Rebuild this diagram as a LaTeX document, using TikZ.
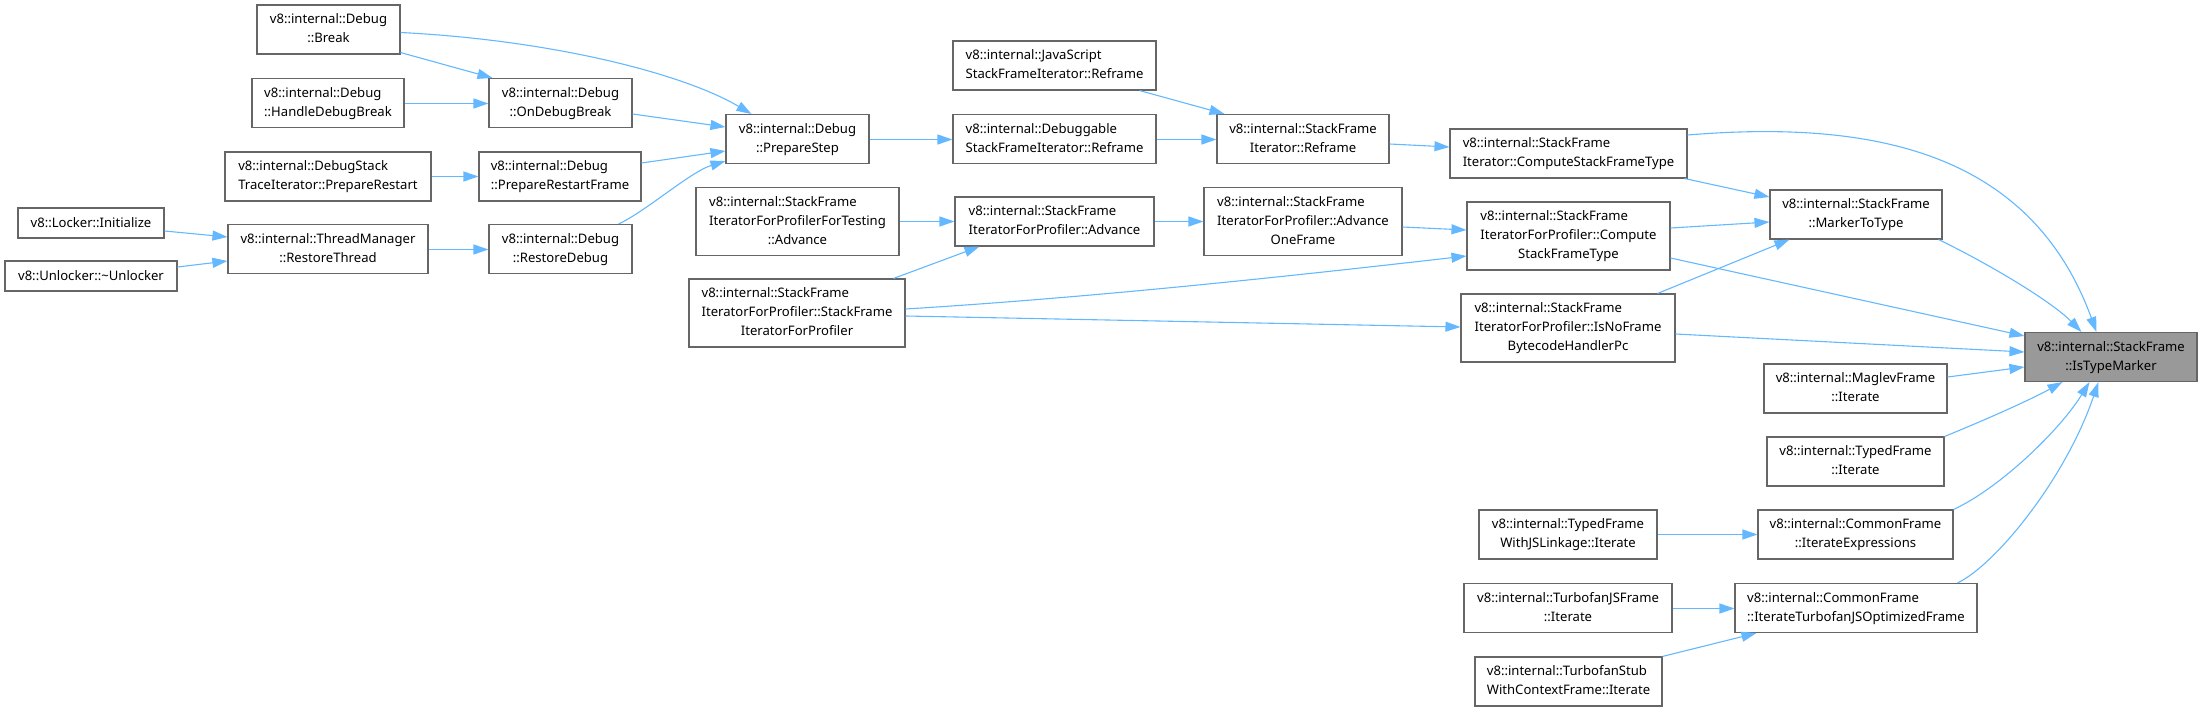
\documentclass[tikz,border=0pt]{standalone}
\usepackage{fontspec}
\setmainfont{Noto Sans}
\usetikzlibrary{arrows.meta,calc}
\definecolor{edgec}{HTML}{63B8FF}
\definecolor{nodeb}{HTML}{666666}
\definecolor{hlfill}{HTML}{999999}
\newcommand\lbl[2]{\begin{tabular}{@{}l@{}}#1\\\multicolumn{1}{@{}c@{}}{#2}\end{tabular}}
\begin{document}
\begin{tikzpicture}[x=1pt,y=-1pt,
  box/.style 2 args={draw=nodeb, line width=1.1pt, fill=white, inner sep=0pt,
    minimum width=#1pt, minimum height=#2pt, text=black,
    font=\fontsize{13.1}{19}\selectfont},
  hl/.style={fill=hlfill},
  edge/.style={draw=edgec, line width=1.1pt, -{Triangle[length=15pt,width=10pt]}}]
\useasboundingbox (0,0) rectangle (2202,711);
% column 1
\node[box={146}{30}] (lock) at (91,223) {v8::Locker::Initialize};
\node[box={172}{30}] (unlock) at (91,276) {v8::Unlocker::\textasciitilde Unlocker};
% column 2
\node[box={143}{49}] (brk) at (328.5,29.5) {\lbl{v8::internal::Debug}{::Break}};
\node[box={152}{49}] (hdb) at (328,103) {\lbl{v8::internal::Debug}{::HandleDebugBreak}};
\node[box={206}{49}] (dsti) at (328,176.5) {\lbl{v8::internal::DebugStack}{TraceIterator::PrepareRestart}};
\node[box={200}{49}] (rth) at (328,249) {\lbl{v8::internal::ThreadManager}{::RestoreThread}};
% column 3
\node[box={143}{49}] (odb) at (560.5,103) {\lbl{v8::internal::Debug}{::OnDebugBreak}};
\node[box={162}{49}] (prf) at (560,176.5) {\lbl{v8::internal::Debug}{::PrepareRestartFrame}};
\node[box={143}{49}] (rdb) at (560.5,249) {\lbl{v8::internal::Debug}{::RestoreDebug}};
% column 4
\node[box={143}{49}] (pstep) at (797.5,139) {\lbl{v8::internal::Debug}{::PrepareStep}};
\node[box={203}{68}] (fta) at (797.5,221.5) {\lbl{v8::internal::StackFrame\\IteratorForProfilerForTesting}{::Advance}};
\node[box={216}{68}] (pctor) at (797,313) {\lbl{v8::internal::StackFrame\\IteratorForProfiler::StackFrame}{IteratorForProfiler}};
% column 5
\node[box={203}{49}] (jsr) at (1054.5,65.5) {\lbl{v8::internal::JavaScript}{StackFrameIterator::Reframe}};
\node[box={203}{49}] (dbr) at (1054.5,139) {\lbl{v8::internal::Debuggable}{StackFrameIterator::Reframe}};
\node[box={199}{49}] (pad) at (1054.5,221.5) {\lbl{v8::internal::StackFrame}{IteratorForProfiler::Advance}};
% column 6
\node[box={172}{49}] (sfr) at (1303,139) {\lbl{v8::internal::StackFrame}{Iterator::Reframe}};
\node[box={198}{68}] (aof) at (1303,221.5) {\lbl{v8::internal::StackFrame\\IteratorForProfiler::Advance}{OneFrame}};
% column 7
\node[box={237}{49}] (cst) at (1568.5,153.5) {\lbl{v8::internal::StackFrame}{Iterator::ComputeStackFrameType}};
\node[box={203}{68}] (pcst) at (1568.5,236) {\lbl{v8::internal::StackFrame\\IteratorForProfiler::Compute}{StackFrameType}};
\node[box={214}{68}] (nofr) at (1568,328) {\lbl{v8::internal::StackFrame\\IteratorForProfiler::IsNoFrame}{BytecodeHandlerPc}};
\node[box={178}{49}] (tfjs) at (1568,534.5) {\lbl{v8::internal::TypedFrame}{WithJSLinkage::Iterate}};
\node[box={208}{49}] (tjs) at (1568,608) {\lbl{v8::internal::TurbofanJSFrame}{::Iterate}};
\node[box={187}{49}] (tstub) at (1568.5,681.5) {\lbl{v8::internal::TurbofanStub}{WithContextFrame::Iterate}};
% column 8
\node[box={172}{49}] (mtt) at (1856,214.5) {\lbl{v8::internal::StackFrame}{::MarkerToType}};
\node[box={183}{49}] (mag) at (1855.5,388.5) {\lbl{v8::internal::MaglevFrame}{::Iterate}};
\node[box={177}{49}] (tfi) at (1855.5,461.5) {\lbl{v8::internal::TypedFrame}{::Iterate}};
\node[box={195}{49}] (iex) at (1855.5,534.5) {\lbl{v8::internal::CommonFrame}{::IterateExpressions}};
\node[box={242}{49}] (itj) at (1856,608) {\lbl{v8::internal::CommonFrame}{::IterateTurbofanJSOptimizedFrame}};
% column 9
\node[box={172}{49}, hl] (itm) at (2111,357) {\lbl{v8::internal::StackFrame}{::IsTypeMarker}};
% edges
\draw[edge] ($(brk.south east)+(0,-2)$) -- ($(odb.north west)+(4,0)$);
\draw[edge] ($(brk.east)+(0,3)$) .. controls (550,40) and (682,73) .. ($(pstep.north west)+(26,0)$);
\draw[edge] ($(hdb.east)+(0,0.5)$) -- ($(odb.west)+(0,0.5)$);
\draw[edge] ($(odb.east)+(0,11)$) -- ($(pstep.west)+(0,-12)$);
\draw[edge] (dsti.east) -- (prf.west);
\draw[edge] ($(prf.east)+(0,-13.5)$) -- ($(pstep.west)+(0,12)$);
\draw[edge] ($(lock.east)+(0,8)$) -- ($(rth.west)+(0,-12)$);
\draw[edge] ($(unlock.east)+(0,-9)$) -- ($(rth.west)+(0,12)$);
\draw[edge] ($(rth.east)+(0,0.5)$) -- ($(rdb.west)+(0,0.5)$);
\draw[edge] ($(rdb.north east)+(-14,0)$) .. controls (645,212) and (690,172) .. ($(pstep.south west)+(0,-3)$);
\draw[edge] ($(pstep.east)+(0,0.5)$) -- ($(dbr.west)+(0,0.5)$);
\draw[edge] ($(jsr.south east)+(-17,0)$) -- ($(sfr.north west)+(8,0)$);
\draw[edge] ($(dbr.east)+(0,0.5)$) -- ($(sfr.west)+(0,0.5)$);
\draw[edge] ($(sfr.east)+(0,5)$) -- ($(cst.west)+(0,-6.5)$);
\draw[edge] (fta.east) -- (pad.west);
\draw[edge] ($(pctor.north east)+(-12,0)$) -- ($(pad.south west)+(25,0)$);
\draw[edge] (pad.east) -- (aof.west);
\draw[edge] ($(aof.east)+(0,5.5)$) -- ($(pcst.west)+(0,-6)$);
\draw[edge] ($(pctor.east)+(0,-4)$) .. controls (1100,297) and (1300,275) .. ($(pcst.west)+(0,20)$);
\draw[edge] ($(pctor.east)+(0,3)$) -- ($(nofr.west)+(0,-1)$);
\draw[edge] ($(cst.south east)+(-3,0)$) -- ($(mtt.west)+(0,-17.5)$);
\draw[edge] ($(cst.east)+(0,-18.5)$) .. controls (1870,120) and (2030,150) .. ($(itm.north west)+(72,0)$);
\draw[edge] ($(pcst.east)+(0,-8)$) -- ($(mtt.west)+(0,7.5)$);
\draw[edge] ($(pcst.east)+(0,22)$) -- ($(itm.west)+(0,-21)$);
\draw[edge] ($(nofr.north east)+(-18,0)$) -- ($(mtt.south west)+(20,0)$);
\draw[edge] ($(nofr.east)+(0,6)$) -- ($(itm.west)+(0,-5)$);
\draw[edge] ($(mtt.south east)+(-4,0)$) .. controls (1985,262) and (2050,300) .. ($(itm.north west)+(57,0)$);
\draw[edge] ($(mag.east)+(0,-11.5)$) -- ($(itm.west)+(0,10)$);
\draw[edge] (tfi.north east) .. controls (1985,420) and (2030,400) .. ($(itm.south west)+(38,0)$);
\draw[edge] (iex.north east) .. controls (2000,488) and (2060,430) .. ($(itm.south west)+(65,0)$);
\draw[edge] ($(itj.north east)+(-20,0)$) .. controls (1995,565) and (2065,480) .. ($(itm.south west)+(74,0)$);
\draw[edge] (tfjs.east) -- (iex.west);
\draw[edge] ($(tjs.east)+(0,0.5)$) -- ($(itj.west)+(0,0.5)$);
\draw[edge] (tstub.north east) -- ($(itj.south west)+(22,0)$);
\end{tikzpicture}
\end{document}
